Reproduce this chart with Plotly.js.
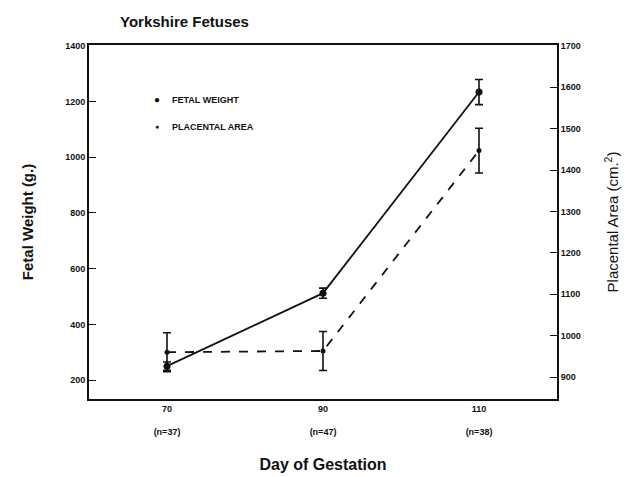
<!DOCTYPE html>
<html><head><meta charset="utf-8">
<script src="https://cdn.plot.ly/plotly-3.0.1.min.js"></script>
<style>html,body{margin:0;padding:0;background:#fff}#c{width:633px;height:477px}</style>
</head><body><div id="c"></div>
<script>
const days = [70, 90, 110];
const dayLabels = ["70<br> <br>(n=37)", "90<br> <br>(n=47)", "110<br> <br>(n=38)"];
const fetalWeight = [250, 512, 1234];
const fetalWeightErr = [15, 18, 45];
const placentalArea = [960, 963, 1447];
const placentalAreaErr = [47, 47, 54];
const leftTicks = [200, 400, 600, 800, 1000, 1200, 1400];
const rightTicks = [900, 1000, 1100, 1200, 1300, 1400, 1500, 1600, 1700];

const FF = "Liberation Sans, Arial, sans-serif";
const tickFont = {family: FF, size: 9, color: "#111", weight: "bold"};
const traces = [
  {x: days, y: fetalWeight, type: "scatter", mode: "lines+markers", name: "FETAL WEIGHT",
   line: {color: "#111", width: 1.8}, marker: {color: "#111", size: 7, symbol: "circle"},
   error_y: {type: "data", array: fetalWeightErr, visible: true, color: "#111", thickness: 1.6, width: 4}},
  {x: days, y: placentalArea, type: "scatter", mode: "lines+markers", name: "PLACENTAL AREA", yaxis: "y2",
   line: {color: "#111", width: 1.8, dash: "dash"}, marker: {color: "#111", size: 5, symbol: "circle"},
   error_y: {type: "data", array: placentalAreaErr, visible: true, color: "#111", thickness: 1.6, width: 4}}
];
const lx = (157-89)/468, tx = (170-89)/468;
const ly1 = (399-100)/354, ly2 = (399-127)/354;
const layout = {
  width: 633, height: 477,
  margin: {l: 89, r: 76, t: 45, b: 78},
  paper_bgcolor: "#fff", plot_bgcolor: "#fff",
  showlegend: false,
  title: {text: "Yorkshire Fetuses", x: 120/633, xanchor: "left", y: 0.955, yanchor: "middle",
          font: {family: FF, size: 15, color: "#111", weight: "bold"}},
  xaxis: {range: [60, 120], tickvals: days, ticktext: dayLabels, showgrid: false, zeroline: false,
          showline: true, linecolor: "#111", linewidth: 2, mirror: true, ticks: "",
          tickfont: {family: FF, size: 9, color: "#111", weight: "bold"},
          title: {text: "Day of Gestation", standoff: 23,
                  font: {family: FF, size: 16, color: "#111", weight: "bold"}}},
  yaxis: {range: [132, 1403], tickvals: leftTicks, showgrid: false, zeroline: false,
          showline: true, linecolor: "#111", linewidth: 2, ticks: "inside", ticklen: 7, tickcolor: "#111",
          tickfont: tickFont,
          title: {text: "Fetal Weight (g.)", standoff: 28,
                  font: {family: FF, size: 15, color: "#111", weight: "bold"}}},
  yaxis2: {range: [847, 1702], tickvals: rightTicks, overlaying: "y", side: "right", showgrid: false, zeroline: false,
           showline: true, linecolor: "#111", linewidth: 2, ticks: "inside", ticklen: 7, tickcolor: "#111",
           tickfont: tickFont,
           title: {text: "Placental Area (cm.<sup>2</sup>)", standoff: 28,
                   font: {family: FF, size: 15, color: "#111"}}},
  annotations: [
    {xref: "paper", yref: "paper", x: lx, y: ly1, xanchor: "center", yanchor: "middle", showarrow: false,
     text: "●", font: {family: FF, size: 10, color: "#111"}},
    {xref: "paper", yref: "paper", x: tx, y: ly1, xanchor: "left", yanchor: "middle", showarrow: false,
     text: "FETAL WEIGHT", font: {family: FF, size: 9, color: "#111", weight: "bold"}},
    {xref: "paper", yref: "paper", x: lx, y: ly2, xanchor: "center", yanchor: "middle", showarrow: false,
     text: "●", font: {family: FF, size: 7, color: "#111"}},
    {xref: "paper", yref: "paper", x: tx, y: ly2, xanchor: "left", yanchor: "middle", showarrow: false,
     text: "PLACENTAL AREA", font: {family: FF, size: 9, color: "#111", weight: "bold"}}
  ]
};
Plotly.newPlot("c", traces, layout, {displayModeBar: false, staticPlot: true});
</script></body></html>
